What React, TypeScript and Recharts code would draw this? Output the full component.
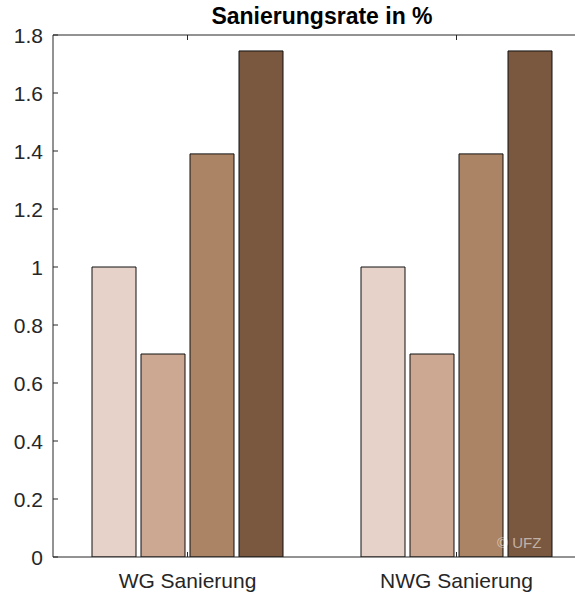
import React from 'react';
import { BarChart, Bar, XAxis, YAxis, ReferenceLine } from 'recharts';

const categories = ['WG Sanierung', 'NWG Sanierung'];
const series1 = [1.0, 1.0];
const series2 = [0.7, 0.7];
const series3 = [1.39, 1.39];
const series4 = [1.745, 1.745];
const yTicks = [0, 0.2, 0.4, 0.6, 0.8, 1, 1.2, 1.4, 1.6, 1.8];

const seriesKeys = ['s1', 's2', 's3', 's4'];
const colors = ['#e6d2c8', '#cca893', '#ab8465', '#7a573f'];

const data = categories.map((name, i) => ({
  name,
  s1: series1[i],
  s2: series2[i],
  s3: series3[i],
  s4: series4[i],
}));

const AXIS = '#262626';
const FONT = '"Liberation Sans", Arial, sans-serif';
const MARGIN = { top: 35, right: 29, bottom: 0, left: 0 };

// inward ticks like matlab, labels outside
const YTick = (props: any) => {
  const { x, y, payload } = props;
  return (
    <g>
      <line x1={x} x2={x + 5} y1={y} y2={y} stroke={AXIS} strokeWidth={1} />
      <text x={x - 10} y={y} dy="0.36em" textAnchor="end" fontSize={21} fontFamily={FONT} fill={AXIS}>
        {String(payload.value)}
      </text>
    </g>
  );
};

const XTick = (props: any) => {
  const { x, y, payload } = props;
  return (
    <g>
      <line x1={x} x2={x} y1={y} y2={y - 5} stroke={AXIS} strokeWidth={1} />
      <line x1={x} x2={x} y1={MARGIN.top} y2={MARGIN.top + 5} stroke={AXIS} strokeWidth={1} />
      <text x={x} y={y + 31} textAnchor="middle" fontSize={21} fontFamily={FONT} fill={AXIS}>
        {payload.value}
      </text>
    </g>
  );
};

export default function App() {
  return (
    <div style={{ position: 'absolute', left: 0, top: 0, width: 575, height: 595, overflow: 'hidden', background: '#fff' }}>
      <BarChart width={620} height={595} data={data} margin={MARGIN} barSize={44} barGap={5}>
        <XAxis
          dataKey="name"
          height={38}
          tickSize={0}
          tickMargin={0}
          tick={<XTick />}
          axisLine={{ stroke: AXIS, strokeWidth: 1 }}
          tickLine={false}
        />
        <YAxis
          domain={[0, 1.8]}
          ticks={yTicks}
          width={53}
          tickSize={0}
          tickMargin={0}
          tick={<YTick />}
          axisLine={{ stroke: AXIS, strokeWidth: 1 }}
          tickLine={false}
          allowDataOverflow
        />
        <ReferenceLine y={1.8} stroke={AXIS} strokeWidth={1} ifOverflow="extendDomain" />
        {seriesKeys.map((k, i) => (
          <Bar key={k} dataKey={k} fill={colors[i]} stroke="#111" strokeWidth={1} isAnimationActive={false} />
        ))}
      </BarChart>
      <div
        style={{
          position: 'absolute',
          left: 53,
          top: 5,
          width: 538,
          textAlign: 'center',
          fontFamily: FONT,
          fontWeight: 'bold',
          fontSize: 23,
          lineHeight: 1,
          color: '#000',
        }}
      >
        Sanierungsrate in %
      </div>
      <div
        style={{
          position: 'absolute',
          left: 497,
          top: 535,
          fontFamily: FONT,
          fontSize: 15,
          lineHeight: 1,
          color: 'rgba(255,255,255,0.55)',
          whiteSpace: 'nowrap',
        }}
      >
        © UFZ
      </div>
    </div>
  );
}
